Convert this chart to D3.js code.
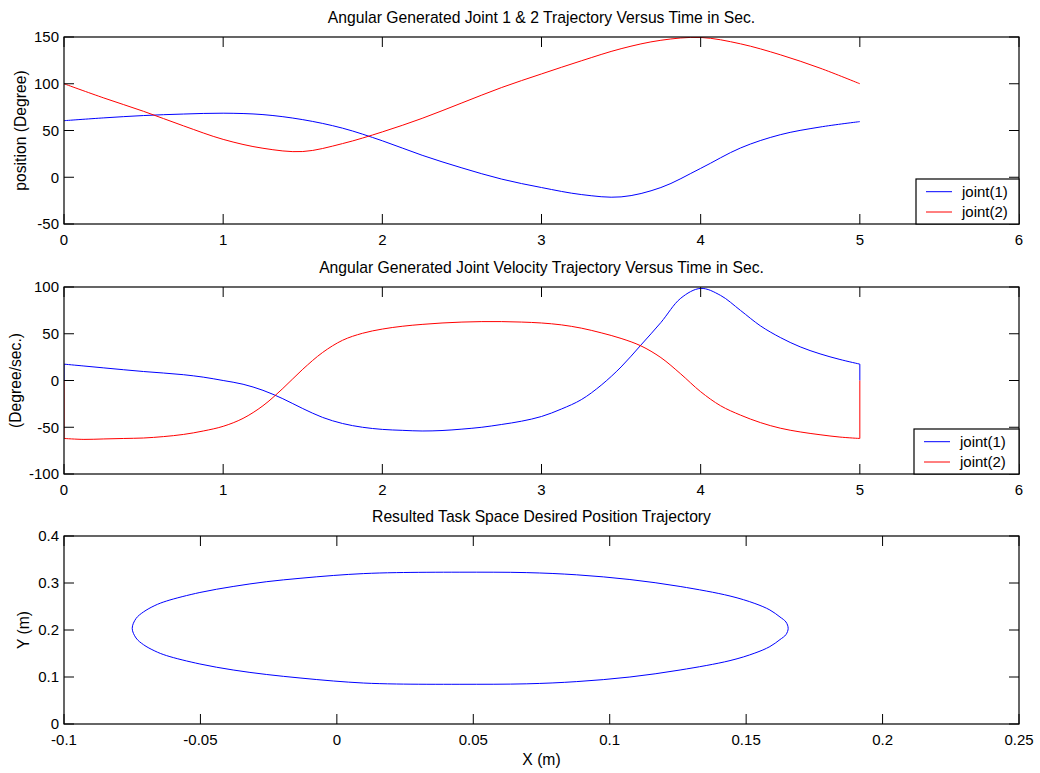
<!DOCTYPE html>
<html>
<head>
<meta charset="utf-8">
<script src="https://cdn.jsdelivr.net/npm/d3@7"></script>
<style>
  body { margin: 0; background: #fff; }
  svg text { font-family: "Liberation Sans", Arial, sans-serif; font-size: 15px; fill: #000; }
  svg text.big { font-size: 15.7px; }
</style>
</head>
<body>
<svg id="fig" width="1040" height="773"></svg>
<script>
// ---- joint positions (degrees) sampled every 0.25 s ----
const timePos   = [0, 0.25, 0.5, 0.75, 1, 1.25, 1.5, 1.75, 2, 2.25, 2.5, 2.75, 3, 3.25, 3.5, 3.75, 4, 4.25, 4.5, 4.75, 5];
const joint1Pos = [60.5, 63.5, 66, 67.6, 68.5, 67, 61.6, 52.5, 39, 23.5, 10, -2, -11, -18.5, -21, -11, 9.5, 31.3, 45.5, 53.7, 59.5];
const joint2Pos = [100, 84.8, 70.5, 55, 40.5, 31, 27.5, 36, 48.5, 63, 79.5, 96, 110.5, 124.5, 137.5, 146.5, 149.5, 142.7, 131, 116.7, 100];

// ---- joint velocities (degree/sec) sampled every 0.125 s; first and last samples are the at-rest values ----
const timeVel = [0, 0, 0.125, 0.25, 0.375, 0.5, 0.625, 0.75, 0.875, 1, 1.125, 1.25, 1.375, 1.5, 1.625, 1.75, 1.875,
                 2, 2.125, 2.25, 2.375, 2.5, 2.625, 2.75, 2.875, 3, 3.125, 3.25, 3.375, 3.5, 3.625, 3.75, 3.875,
                 4, 4.125, 4.25, 4.375, 4.5, 4.625, 4.75, 4.875, 5, 5];
const joint1Vel = [0, 17.5, 15.5, 13.5, 11.5, 9.6, 8, 6.2, 3.6, 0, -4, -10.5, -19.5, -30, -39.5, -46, -50,
                   -52.3, -53.3, -54, -53.5, -52, -50, -47, -43.5, -38.5, -30.5, -20.5, -5, 14.5, 38, 62, 88,
                   98.5, 91, 75, 58.5, 46, 36, 28.5, 22.5, 17.5, 0];
const joint2Vel = [0, -62, -63, -62.5, -62, -61.5, -60, -57.7, -54, -49, -40.5, -27, -8.5, 12, 30, 43, 50.5,
                   55, 58, 60, 61.5, 62.5, 63, 63, 62.5, 61.5, 59.5, 56, 51, 45, 37, 24.5, 7,
                   -12, -27, -37, -45, -51, -55, -58, -60.5, -62, 0];

// ---- task-space path (m), traced once around ----
const taskX = [-0.0750, -0.0736, -0.0709, -0.0667, -0.0624, -0.0502, -0.0380, -0.0257, -0.0135, -0.0013, 0.0097, 0.0219, 0.0451,
               0.0696, 0.0879, 0.1074, 0.1258, 0.1441, 0.1532, 0.1587, 0.1624, 0.1646, 0.1654,
               0.1646, 0.1624, 0.1587, 0.1532, 0.1441, 0.1258, 0.1074, 0.0879, 0.0696, 0.0451, 0.0219, 0.0097,
               -0.0013, -0.0135, -0.0257, -0.0380, -0.0502, -0.0624, -0.0667, -0.0709, -0.0736];
const taskY = [0.2036, 0.2245, 0.2383, 0.2521, 0.2617, 0.2798, 0.2926, 0.3028, 0.3100, 0.3160, 0.3200, 0.3221, 0.3230,
               0.3221, 0.3174, 0.3074, 0.2926, 0.2723, 0.2564, 0.2426, 0.2277, 0.2170, 0.2036,
               0.1902, 0.1796, 0.1647, 0.1509, 0.1349, 0.1149, 0.1000, 0.0902, 0.0855, 0.0845, 0.0851, 0.0872,
               0.0915, 0.0979, 0.1053, 0.1149, 0.1277, 0.1455, 0.1553, 0.1689, 0.1830];

// ---- ticks and labels ----
const timeTicks   = [0, 1, 2, 3, 4, 5, 6];
const timeLabels  = ["0", "1", "2", "3", "4", "5", "6"];
const posTicks    = [-50, 0, 50, 100, 150];
const posLabels   = ["-50", "0", "50", "100", "150"];
const velTicks    = [-100, -50, 0, 50, 100];
const velLabels   = ["-100", "-50", "0", "50", "100"];
const taskXTicks  = [-0.1, -0.05, 0, 0.05, 0.1, 0.15, 0.2, 0.25];
const taskXLabels = ["-0.1", "-0.05", "0", "0.05", "0.1", "0.15", "0.2", "0.25"];
const taskYTicks  = [0, 0.1, 0.2, 0.3, 0.4];
const taskYLabels = ["0", "0.1", "0.2", "0.3", "0.4"];
const legendNames = ["joint(1)", "joint(2)"];
const seriesColors = ["#0000ff", "#ff0000"];

const svg = d3.select("#fig");
const LEFT = 64, RIGHT = 1019, TICK = 10;

function panel(cfg) {
  const x = d3.scaleLinear().domain(cfg.xDomain).range([LEFT, RIGHT]);
  const y = d3.scaleLinear().domain(cfg.yDomain).range([cfg.bottom, cfg.top]);
  const g = svg.append("g");

  // data lines, clipped to the plot box
  const clip = "clip" + cfg.top;
  g.append("clipPath").attr("id", clip).append("rect")
    .attr("x", LEFT).attr("y", cfg.top).attr("width", RIGHT - LEFT).attr("height", cfg.bottom - cfg.top);
  const plot = g.append("g").attr("clip-path", `url(#${clip})`);
  cfg.draw(plot, x, y);

  // box
  g.append("rect").attr("x", LEFT).attr("y", cfg.top)
    .attr("width", RIGHT - LEFT).attr("height", cfg.bottom - cfg.top)
    .attr("fill", "none").attr("stroke", "#000").attr("stroke-width", 1.2);

  // ticks on all four sides, pointing inwards
  const tk = g.append("g").attr("stroke", "#000").attr("stroke-width", 1);
  cfg.xTicks.forEach(v => {
    tk.append("line").attr("x1", x(v)).attr("x2", x(v)).attr("y1", cfg.bottom).attr("y2", cfg.bottom - TICK);
    tk.append("line").attr("x1", x(v)).attr("x2", x(v)).attr("y1", cfg.top).attr("y2", cfg.top + TICK);
  });
  cfg.yTicks.forEach(v => {
    tk.append("line").attr("x1", LEFT).attr("x2", LEFT + TICK).attr("y1", y(v)).attr("y2", y(v));
    tk.append("line").attr("x1", RIGHT).attr("x2", RIGHT - TICK).attr("y1", y(v)).attr("y2", y(v));
  });

  // tick labels
  cfg.xTicks.forEach((v, i) => {
    g.append("text").attr("x", x(v)).attr("y", cfg.bottom + 21)
      .attr("text-anchor", "middle").text(cfg.xLabels[i]);
  });
  cfg.yTicks.forEach((v, i) => {
    g.append("text").attr("x", LEFT - 5).attr("y", y(v) + 5.3)
      .attr("text-anchor", "end").text(cfg.yLabels[i]);
  });

  // title and axis labels
  g.append("text").attr("class", "big").attr("x", (LEFT + RIGHT) / 2).attr("y", cfg.top - 14)
    .attr("text-anchor", "middle").text(cfg.title);
  g.append("text").attr("class", "big")
    .attr("transform", `translate(${cfg.ylabelX},${(cfg.top + cfg.bottom) / 2}) rotate(-90)`)
    .attr("text-anchor", "middle").text(cfg.ylabel);
  if (cfg.xlabel) {
    g.append("text").attr("class", "big").attr("x", (LEFT + RIGHT) / 2).attr("y", cfg.bottom + 41)
      .attr("text-anchor", "middle").text(cfg.xlabel);
  }

  // legend
  if (cfg.legend) {
    const L = cfg.legend;
    const lg = g.append("g");
    lg.append("rect").attr("x", L.x).attr("y", L.y).attr("width", RIGHT - L.x).attr("height", cfg.bottom - L.y)
      .attr("fill", "#fff").attr("stroke", "#000").attr("stroke-width", 1.2);
    legendNames.forEach((name, i) => {
      const ry = L.y + 12.7 + i * 20.3;
      lg.append("line").attr("x1", L.x + 10).attr("x2", L.x + 36).attr("y1", ry).attr("y2", ry)
        .attr("stroke", seriesColors[i]).attr("stroke-width", 1);
      lg.append("text").attr("x", L.x + 46).attr("y", ry + 5.3).text(name);
    });
  }
}

// smooth curve through samples, and straight segments for the start/stop jumps
const smooth = (x, y) => d3.line().x(d => x(d[0])).y(d => y(d[1])).curve(d3.curveCatmullRom.alpha(0.5));
const straight = (x, y) => d3.line().x(d => x(d[0])).y(d => y(d[1]));

// Panel 1: joint positions
panel({
  top: 37, bottom: 224, xDomain: [0, 6], yDomain: [-50, 150],
  xTicks: timeTicks, xLabels: timeLabels, yTicks: posTicks, yLabels: posLabels,
  title: "Angular Generated Joint 1 & 2 Trajectory Versus Time in Sec.",
  ylabel: "position (Degree)", ylabelX: 26,
  legend: { x: 916, y: 179 },
  draw(plot, x, y) {
    [joint1Pos, joint2Pos].forEach((vals, k) => {
      const pts = timePos.map((t, i) => [t, vals[i]]);
      plot.append("path").attr("d", smooth(x, y)(pts))
        .attr("fill", "none").attr("stroke", seriesColors[k]).attr("stroke-width", 1);
    });
  }
});

// Panel 2: joint velocities
panel({
  top: 287, bottom: 474, xDomain: [0, 6], yDomain: [-100, 100],
  xTicks: timeTicks, xLabels: timeLabels, yTicks: velTicks, yLabels: velLabels,
  title: "Angular Generated Joint Velocity Trajectory Versus Time in Sec.",
  ylabel: "(Degree/sec.)", ylabelX: 20.5,
  legend: { x: 914, y: 429 },
  draw(plot, x, y) {
    [joint1Vel, joint2Vel].forEach((vals, k) => {
      const pts = timeVel.map((t, i) => [t, vals[i]]);
      const n = pts.length;
      const d = straight(x, y)([pts[0], pts[1]]) + smooth(x, y)(pts.slice(1, n - 1)) + straight(x, y)([pts[n - 2], pts[n - 1]]);
      plot.append("path").attr("d", d)
        .attr("fill", "none").attr("stroke", seriesColors[k]).attr("stroke-width", 1);
    });
  }
});

// Panel 3: task-space path
panel({
  top: 536, bottom: 724, xDomain: [-0.1, 0.25], yDomain: [0, 0.4],
  xTicks: taskXTicks, xLabels: taskXLabels, yTicks: taskYTicks, yLabels: taskYLabels,
  title: "Resulted Task Space Desired Position Trajectory",
  ylabel: "Y (m)", ylabelX: 29, xlabel: "X (m)",
  draw(plot, x, y) {
    const pts = taskX.map((v, i) => [v, taskY[i]]);
    plot.append("path")
      .attr("d", d3.line().x(d => x(d[0])).y(d => y(d[1])).curve(d3.curveCatmullRomClosed.alpha(0.5))(pts))
      .attr("fill", "none").attr("stroke", seriesColors[0]).attr("stroke-width", 1);
  }
});
</script>
</body>
</html>
